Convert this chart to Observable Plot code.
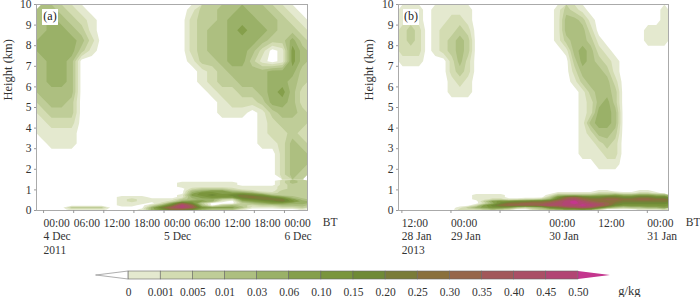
<!DOCTYPE html>
<html><head><meta charset="utf-8">
<style>html,body{margin:0;padding:0;background:#fff}#c{position:relative;width:700px;height:297px;overflow:hidden}#c svg{position:absolute;max-width:none;overflow:visible}</style>
<script src="https://cdn.jsdelivr.net/npm/d3@7"></script>
<script src="https://cdn.jsdelivr.net/npm/@observablehq/plot@0.6"></script>
</head><body><div id="c"></div>
<script>
// Colour bar labels (g/kg) and band colours
const legendLabels = ["0","0.001","0.005","0.01","0.03","0.06","0.10","0.15","0.20","0.25","0.30","0.35","0.40","0.45","0.50"];
const bandColors = ["#e4e9cf","#d3dcb2","#bfcd98","#adbf80","#9ab168","#859f4b","#7a953c","#6f8a36","#7a7c38","#8a703c","#96664a","#a2585a","#aa4f66","#b24574","#c4368e"];
const bandThresholds = [.5,1.5,2.5,3.5,4.5,5.5,6.5,7.5,8.5,9.5,10.5,11.5,12.5,13.5,14.5];
const yTicks = [0,1,2,3,4,5,6,7,8,9,10];

// Panel (a): hours since 00:00 4 Dec 2011
const aTicks = [0,6,12,18,24,30,36,42,48];
const aLabels = ["00:00\n4 Dec\n2011","06:00","12:00","18:00","00:00\n5 Dec","06:00","12:00","18:00","00:00\n6 Dec"];
// Band index per cell (hex digit), rows from 10 km to 1.5 km, columns 2 h
const aUpper = [
"443210"+"000000000"+"133445443210",
"454321"+"000000000"+"233455544321",
"455431"+"000000000"+"234456554332",
"555542"+"000000000"+"234455543353",
"555531"+"000000000"+"234455420164",
"455400"+"000000000"+"133455310164",
"455400"+"000000000"+"012344445553",
"455400"+"000000000"+"012334445543",
"444400"+"000000000"+"001223345642",
"344300"+"000000000"+"000122235542",
"233300"+"000000000"+"000111013443",
"122200"+"000000000"+"000000012333",
"111100"+"000000000"+"000000012232",
"011100"+"000000000"+"000000011243",
"000000"+"000000000"+"000000000244",
"000000"+"000000000"+"000000000244",
"000000"+"000000000"+"000000000243"];
// rows from 1.5 km to 0 km
const aLower = [
"000000000000000000000000243",
"00000000000000"+"111111"+"0000"+"243",
"00000000000000"+"111111"+"0000"+"233",
"00000000000000"+"111111"+"1111"+"233",
"00000000000000"+"0"+"23332"+"1111"+"233",
"00000000000000"+"0"+"45664"+"3211"+"333",
"00000000000000"+"0"+"57766"+"6532"+"333",
"00000000000000"+"1"+"67878"+"9874"+"333",
"00000000"+"111"+"000"+"1"+"56777"+"9a98"+"643",
"00000000"+"12111"+"1"+"3"+"45532"+"7899"+"964",
"00000000"+"121112"+"5"+"66510"+"5678"+"975",
"00000000"+"111026"+"b"+"83000"+"3456"+"655",
"00000000"+"110259"+"e"+"b4034"+"3233"+"444",
"000"+"3333"+"000"+"0"+"59c"+"e"+"c7666"+"4111"+"223",
"000"+"1111"+"000"+"1"+"57a"+"a"+"85444"+"1000"+"001"];

// Panel (b): hours since 12:00 28 Jan 2013
const bTicks = [0,12,24,36,48,60];
const bLabels = ["12:00\n28 Jan\n2013","00:00\n29 Jan","","00:00\n30 Jan","12:00","00:00\n31 Jan"];
const z10 = "0000000000";
const bUpper = [
"111"+"0"+"11111"+z10+"13210000"+"0000"+"01",
"121"+"0"+"11221"+z10+"14431000"+"0000"+"01",
"232"+"0"+"12232"+z10+"14442000"+"0001"+"11",
"232"+"0"+"12343"+z10+"13443100"+"0001"+"11",
"222"+"0"+"12343"+z10+"01454210"+"0000"+"00",
"111"+"0"+"00242"+z10+"00354321"+"0000"+"00",
"000"+"0"+"00232"+z10+"00244431"+"0000"+"00",
"000"+"0"+"00121"+z10+"00134442"+"0000"+"00",
"000"+"0"+"00111"+z10+"00013443"+"0000"+"00",
"000"+"0"+"00000"+z10+"00012453"+"0000"+"00",
"000"+"0"+"00000"+z10+"00012554"+"0000"+"00",
"000"+"0"+"00000"+z10+"00014554"+"0000"+"00",
"000"+"0"+"00000"+z10+"00012443"+"0000"+"00",
"000"+"0"+"00000"+z10+"00011232"+"0000"+"00",
"000"+"0"+"00000"+z10+"00011122"+"0000"+"00",
"000"+"0"+"00000"+z10+"00000111"+"0000"+"00",
"000"+"0"+"00000"+z10+"00000000"+"0000"+"00"];
// rows from 1 km to 0 km
const bLower = [
"0000000"+"00000000000000000"+"11"+"000"+"11"+"00",
"0000000"+"000000000000"+"11111222112210",
"0000000"+"00"+"1111"+"00000"+"1"+"44444556556655",
"0000000"+"00"+"1111"+"00000"+"3"+"7ab98899889988",
"0000000"+"00"+"112211223"+"5"+"9cdbaabbaabbaa",
"0000000"+"00"+"0"+"36778899a"+"cefdbaaa999999",
"0000000"+"00"+"0"+"258aabbbc"+"defedcb9888888",
"0000000"+"0"+"0"+"2"+"68abbbbcd"+"deefedb8777777",
"0000000"+"1"+"3"+"5"+"677643458"+"9bcdc964344556",
"0000000"+"2"+"2"+"2"+"343200234"+"56676300001112"];

const cells = rows => rows.flatMap(r => [...r].map(c => parseInt(c, 16)));
const font = {fontFamily:"'Liberation Serif',serif",fontSize:"11.5px",color:"#333",background:"transparent",overflow:"visible"};
const host = document.getElementById("c");
const place = (el,l,t)=>{el.style.left=l+"px";el.style.top=t+"px";host.appendChild(el);};

function layer(rows,x0,x1,yTop,yBottom){
  return Plot.contour(cells(rows),{value:Plot.identity,width:rows[0].length,height:rows.length,x1:x0,x2:x1,y1:yTop,y2:yBottom,
    thresholds:bandThresholds,fill:"value",stroke:"none"});
}
function panel({domain,ticks,labels,upper,lower,lowerTop,name,ml,mr,labelDx,btDx,nameDx}){
  return Plot.plot({
    width:350,height:262,marginLeft:ml,marginRight:mr,marginTop:4,marginBottom:52,style:font,
    x:{domain,axis:null},y:{domain:[0,10],axis:null},
    color:{type:"threshold",domain:bandThresholds.slice(1),range:bandColors},
    marks:[
      layer(upper,domain[0],domain[1],10,1.5),
      layer(lower,domain[0],domain[1],lowerTop,0),
      Plot.frame({stroke:"#aaa",strokeWidth:1}),
      Plot.axisX({ticks,tickSize:3,tickPadding:3.5,stroke:"#999",label:null,
        tickFormat:t=>labels[ticks.indexOf(t)],textAnchor:"start",dx:-13,lineHeight:1.18,fill:"#333"}),
      Plot.axisY({ticks:yTicks,tickSize:2,tickPadding:3,stroke:"#999",label:null,fill:"#333",tickFormat:d=>d}),
      Plot.text(["Height (km)"],{frameAnchor:"left",rotate:-90,dx:labelDx,dy:-7,fill:"#333",fontSize:12.5}),
      Plot.text(["BT"],{frameAnchor:"bottom-right",dx:btDx,dy:15.5,textAnchor:"end",fill:"#333"}),
      Plot.dot([name],{frameAnchor:"top-left",dx:nameDx,dy:12.5,symbol:"square",r:9,fill:"white"}),
      Plot.text([name],{frameAnchor:"top-left",dx:nameDx,dy:12,textAnchor:"middle",lineAnchor:"middle",fill:"#222",fontSize:12})
    ]
  });
}
place(panel({domain:[-4,50],ticks:aTicks,labels:aLabels,upper:aUpper,lower:aLower,lowerTop:1.5,name:"(a)",ml:36,mr:43,labelDx:-29,btDx:30,nameDx:13.5}),0,0);
place(panel({domain:[-4,62],ticks:bTicks,labels:bLabels,upper:bUpper,lower:bLower,lowerTop:1,name:"(b)",ml:48,mr:32,labelDx:-30,btDx:32,nameDx:12.5}),350,0);

// Colour bar
const cellsIdx = d3.range(14);
place(Plot.plot({
  width:700,height:35,marginLeft:96,marginRight:90,marginTop:9,marginBottom:18,style:font,
  x:{domain:[-1,15],axis:null},y:{domain:[0,1],axis:null},
  marks:[
    Plot.area([{x:-1,a:.5,b:.5},{x:0,a:0,b:1}],{x1:"x",y1:"a",y2:"b",fill:"#fff",stroke:"#999",strokeWidth:.8}),
    Plot.area([{x:14,a:0,b:1},{x:15,a:.5,b:.5}],{x1:"x",y1:"a",y2:"b",fill:bandColors[14]}),
    Plot.rect(cellsIdx,{x1:d=>d,x2:d=>d+1,y1:0,y2:1,fill:d=>bandColors[d],stroke:"#666",strokeWidth:.6}),
    Plot.axisX({ticks:d3.range(15),tickSize:0,tickPadding:8,label:null,tickFormat:i=>legendLabels[i],fill:"#333"}),
    Plot.text(["g/kg"],{frameAnchor:"bottom-right",dx:30,dy:15,textAnchor:"end",fill:"#333",fontSize:12.5})
  ]
}),0,262);
</script></body></html>
